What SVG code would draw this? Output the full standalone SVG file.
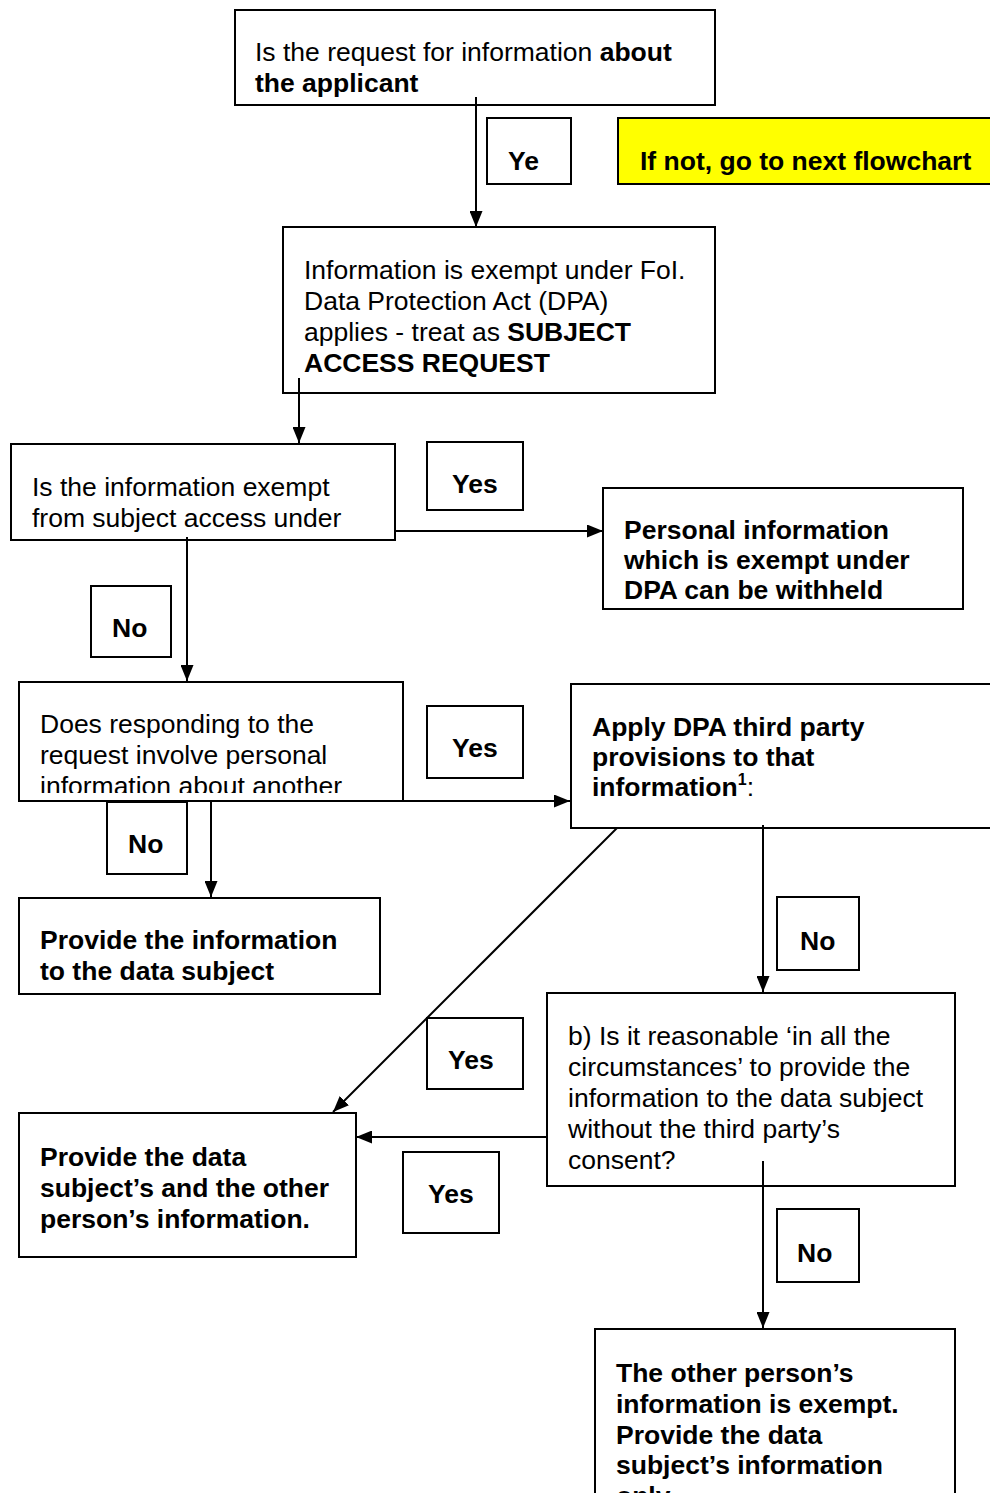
<svg xmlns="http://www.w3.org/2000/svg" width="990" height="1493" viewBox="0 0 990 1493">
<style>
.box{fill:#fff;stroke:#000;stroke-width:2}
.lbl{fill:#fff;stroke:#000;stroke-width:2}
.note{fill:#ffff00;stroke:#000;stroke-width:2}
.t{font-family:"Liberation Sans",Arial,sans-serif;font-size:26.5px;fill:#000}
.b{font-weight:bold}
.c{fill:none;stroke:#000;stroke-width:2}
</style>
<defs>
<marker id="ah" markerUnits="userSpaceOnUse" markerWidth="16" markerHeight="13" refX="16" refY="6.5" orient="auto">
<path d="M0,0 L16,6.5 L0,13 z" fill="#000"/>
</marker>
<clipPath id="clipC"><rect x="12" y="445" width="382" height="92"/></clipPath>
<clipPath id="clipE"><rect x="20" y="683" width="382" height="110"/></clipPath>
</defs>

<g id="nodeA">
<rect class="box" x="235" y="10" width="480" height="95"/>
<text class="t" x="255" y="61">Is the request for information <tspan class="b">about</tspan></text>
<text class="t b" x="255" y="92">the applicant</text>
</g>

<g id="labelYe">
<rect class="lbl" x="487" y="118" width="84" height="66"/>
<text class="t b" x="508" y="170">Ye</text>
</g>

<g id="noteNext">
<rect class="note" x="618" y="118" width="380" height="66"/>
<text class="t b" x="640" y="170">If not, go to next flowchart</text>
</g>

<g id="nodeB">
<rect class="box" x="283" y="227" width="432" height="166"/>
<text class="t" x="304" y="279">Information is exempt under FoI.</text>
<text class="t" x="304" y="310">Data Protection Act (DPA)</text>
<text class="t" x="304" y="341">applies - treat as <tspan class="b">SUBJECT</tspan></text>
<text class="t b" x="304" y="372">ACCESS REQUEST</text>
</g>

<g id="nodeC">
<rect class="box" x="11" y="444" width="384" height="96"/>
<g clip-path="url(#clipC)">
<text class="t" x="32" y="496">Is the information exempt</text>
<text class="t" x="32" y="527">from subject access under</text>
</g>
</g>

<g id="labelYes1">
<rect class="lbl" x="427" y="442" width="96" height="68"/>
<text class="t b" x="452" y="493">Yes</text>
</g>

<g id="nodeD">
<rect class="box" x="603" y="488" width="360" height="121"/>
<text class="t b" x="624" y="539">Personal information</text>
<text class="t b" x="624" y="569">which is exempt under</text>
<text class="t b" x="624" y="599">DPA can be withheld</text>
</g>

<g id="labelNo1">
<rect class="lbl" x="91" y="586" width="80" height="71"/>
<text class="t b" x="112" y="637">No</text>
</g>

<g id="nodeE">
<rect class="box" x="19" y="682" width="384" height="119"/>
<g clip-path="url(#clipE)">
<text class="t" x="40" y="733">Does responding to the</text>
<text class="t" x="40" y="764">request involve personal</text>
<text class="t" x="40" y="795">information about another</text>
</g>
</g>

<g id="labelYes2">
<rect class="lbl" x="427" y="706" width="96" height="72"/>
<text class="t b" x="452" y="757">Yes</text>
</g>

<g id="nodeF">
<rect class="box" x="571" y="684" width="430" height="144"/>
<text class="t b" x="592" y="736">Apply DPA third party</text>
<text class="t b" x="592" y="766">provisions to that</text>
<text class="t b" x="592" y="796">information<tspan font-size="16" dy="-11">1</tspan><tspan font-weight="normal" dy="11">:</tspan></text>
</g>

<g id="labelNo2">
<rect class="lbl" x="107" y="802" width="80" height="72"/>
<text class="t b" x="128" y="853">No</text>
</g>

<g id="nodeG">
<rect class="box" x="19" y="898" width="361" height="96"/>
<text class="t b" x="40" y="949">Provide the information</text>
<text class="t b" x="40" y="980">to the data subject</text>
</g>

<g id="labelNo3">
<rect class="lbl" x="777" y="897" width="82" height="73"/>
<text class="t b" x="800" y="950">No</text>
</g>

<g id="nodeH">
<rect class="box" x="547" y="993" width="408" height="193"/>
<text class="t" x="568" y="1045">b) Is it reasonable ‘in all the</text>
<text class="t" x="568" y="1076">circumstances’ to provide the</text>
<text class="t" x="568" y="1107">information to the data subject</text>
<text class="t" x="568" y="1138">without the third party’s</text>
<text class="t" x="568" y="1169">consent?</text>
</g>

<g id="labelYes3">
<rect class="lbl" x="427" y="1018" width="96" height="71"/>
<text class="t b" x="448" y="1069">Yes</text>
</g>

<g id="nodeI">
<rect class="box" x="19" y="1113" width="337" height="144"/>
<text class="t b" x="40" y="1166">Provide the data</text>
<text class="t b" x="40" y="1197">subject’s and the other</text>
<text class="t b" x="40" y="1228">person’s information.</text>
</g>

<g id="labelYes4">
<rect class="lbl" x="403" y="1152" width="96" height="81"/>
<text class="t b" x="428" y="1203">Yes</text>
</g>

<g id="labelNo4">
<rect class="lbl" x="777" y="1209" width="82" height="73"/>
<text class="t b" x="797" y="1262">No</text>
</g>

<g id="nodeJ">
<rect class="box" x="595" y="1329" width="360" height="190"/>
<text class="t b" x="616" y="1382">The other person’s</text>
<text class="t b" x="616" y="1413">information is exempt.</text>
<text class="t b" x="616" y="1444">Provide the data</text>
<text class="t b" x="616" y="1474">subject’s information</text>
<text class="t b" x="616" y="1505">only</text>
</g>

<g id="connectors">
<line class="c" x1="476" y1="97" x2="476" y2="227" marker-end="url(#ah)"/>
<line class="c" x1="299" y1="378" x2="299" y2="443" marker-end="url(#ah)"/>
<line class="c" x1="395" y1="531" x2="603" y2="531" marker-end="url(#ah)"/>
<line class="c" x1="187" y1="537" x2="187" y2="681" marker-end="url(#ah)"/>
<line class="c" x1="403" y1="801" x2="570" y2="801" marker-end="url(#ah)"/>
<line class="c" x1="211" y1="802" x2="211" y2="897" marker-end="url(#ah)"/>
<line class="c" x1="763" y1="825" x2="763" y2="992" marker-end="url(#ah)"/>
<line class="c" x1="617" y1="828" x2="333" y2="1112" marker-end="url(#ah)"/>
<line class="c" x1="547" y1="1137" x2="356" y2="1137" marker-end="url(#ah)"/>
<line class="c" x1="763" y1="1161" x2="763" y2="1328" marker-end="url(#ah)"/>
</g>
</svg>
